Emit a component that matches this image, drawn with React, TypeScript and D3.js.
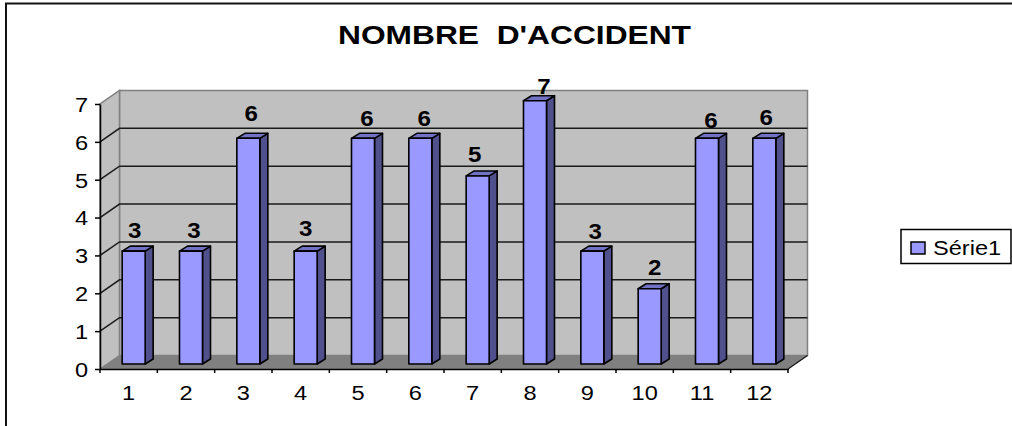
import React, { useEffect, useRef } from 'react';
import * as d3 from 'd3';

const months = ['1', '2', '3', '4', '5', '6', '7', '8', '9', '10', '11', '12'];
const accidents = [3, 3, 6, 3, 6, 6, 5, 7, 3, 2, 6, 6];
const yTicks = [0, 1, 2, 3, 4, 5, 6, 7];
const seriesName = 'Série1';
const chartTitle = "NOMBRE\u00a0\u00a0D'ACCIDENT";

// the value labels sit a bit off centre in the original
const labelNudgeX = [-2, 0, 0, -3, 1, 1, -6, 6, 0, 2, 1, -1];
const labelNudgeY = [0, 0, -4, -2, 1, 1, -1, 6, 1, -1, 3, 0];

const FONT = '"Liberation Sans", Arial, sans-serif';

// the original text is drawn wider than the font's normal width
function stretch(sel: any, k = 1.15) {
  sel.each(function (this: SVGTextElement) {
    this.setAttribute('textLength', String(this.getComputedTextLength() * k));
    this.setAttribute('lengthAdjust', 'spacingAndGlyphs');
  });
}

export default function App() {
  const ref = useRef<SVGSVGElement>(null);

  useEffect(() => {
    const svg = d3.select(ref.current);
    svg.selectAll('*').remove();

    const x = d3.scaleBand().domain(months).range([100, 788]);
    const y = d3.scaleLinear().domain([0, 7]).range([369, 104]);
    // bars stand inside the box, so their scale is a little flatter
    const barY = d3.scaleLinear().domain([0, 7]).range([364, 100.7]);

    // depth of the fake 3d box and of the bars
    const dx = 19.5, dy = -13.5;
    const barW = 23, barDx = 8, barDy = -5;
    const barOffX = 5;

    const x0 = 100, x1 = 788;
    const pts = (a: number[][]) => a.map(p => p.join(',')).join(' ');

    // outer frame, only left and top show
    svg.append('path').attr('d', 'M6,426V3.5H1012').attr('fill', 'none')
      .attr('stroke', '#111').attr('stroke-width', 2);

    // walls
    svg.append('polygon')
      .attr('points', pts([[x0 + dx, y(0) + dy], [x1 + dx, y(0) + dy], [x1 + dx, y(7) + dy], [x0 + dx, y(7) + dy]]))
      .attr('fill', '#c0c0c0').attr('stroke', '#808080').attr('stroke-width', 1.5);
    svg.append('polygon')
      .attr('points', pts([[x0, y(0)], [x0 + dx, y(0) + dy], [x0 + dx, y(7) + dy], [x0, y(7)]]))
      .attr('fill', '#c0c0c0').attr('stroke', '#808080').attr('stroke-width', 1.5);
    svg.append('polygon')
      .attr('points', pts([[x0, y(0)], [x0 + dx, y(0) + dy], [x1 + dx, y(0) + dy], [x1, y(0)]]))
      .attr('fill', '#808080');
    svg.append('line')
      .attr('x1', x1).attr('y1', y(0)).attr('x2', x1 + dx).attr('y2', y(0) + dy)
      .attr('stroke', '#111').attr('stroke-width', 1.2);

    // gridlines
    const inner = yTicks.filter(t => t > 0 && t < 7);
    svg.append('g').selectAll('path').data(inner).join('path')
      .attr('d', t => `M${x0},${y(t)}L${x0 + dx},${y(t) + dy}H${x1 + dx}`)
      .attr('fill', 'none').attr('stroke', '#1a1a1a').attr('stroke-width', 1.5);

    // axes
    const yAxis = d3.axisLeft(y).tickValues(yTicks).tickFormat(d3.format('d')).tickSize(5).tickPadding(7).tickSizeOuter(0);
    const xAxis = d3.axisBottom(x).tickSize(0).tickPadding(16);
    svg.append('g').attr('transform', `translate(${x0},0)`).call(yAxis as any)
      .call(g => g.selectAll('text').attr('dy', '0.36em'));
    const gx = svg.append('g').attr('transform', `translate(0,${y(0)})`).call(xAxis as any);
    gx.selectAll('.tick line').remove();
    gx.selectAll('.edge').data(d3.range(months.length + 1)).join('line')
      .attr('x1', i => x0 + i * x.step()).attr('x2', i => x0 + i * x.step())
      .attr('y1', 0).attr('y2', 4)
      .attr('stroke', '#000').attr('stroke-width', 1.5);
    svg.selectAll('.domain').attr('stroke', '#000').attr('stroke-width', 1.5);
    svg.selectAll('.tick line').attr('stroke', '#000').attr('stroke-width', 1.5);
    const tickText = svg.selectAll('.tick text')
      .attr('font-size', 20.5).attr('font-family', FONT).attr('fill', '#000');
    stretch(tickText);

    // bars
    const bars = svg.append('g').selectAll('g').data(accidents).join('g')
      .attr('transform', (_, i) => {
        const cx = x(months[i])! + x.bandwidth() / 2;
        return `translate(${cx - barW / 2 + barOffX},0)`;
      })
      .attr('stroke', '#000').attr('stroke-width', 1.6).attr('stroke-linejoin', 'round');

    bars.append('polygon')
      .attr('points', d => pts([[barW, barY(d)], [barW + barDx, barY(d) + barDy], [barW + barDx, barY(0) + barDy], [barW, barY(0)]]))
      .attr('fill', '#50508c');
    bars.append('polygon')
      .attr('points', d => pts([[0, barY(d)], [barDx, barY(d) + barDy], [barW + barDx, barY(d) + barDy], [barW, barY(d)]]))
      .attr('fill', '#7272c4');
    bars.append('rect')
      .attr('x', 0).attr('y', d => barY(d)).attr('width', barW).attr('height', d => barY(0) - barY(d))
      .attr('fill', '#9999ff');

    // value labels
    const labels = svg.append('g').selectAll('text').data(accidents).join('text')
      .attr('x', (_, i) => x(months[i])! + x.bandwidth() / 2 + 8 + labelNudgeX[i])
      .attr('y', (d, i) => barY(d) - 13 + labelNudgeY[i])
      .attr('text-anchor', 'middle')
      .attr('font-family', FONT).attr('font-size', 21.5).attr('font-weight', 'bold')
      .text(d => d);
    stretch(labels, 1.12);

    // title
    svg.append('text').attr('x', 514.5).attr('y', 44).attr('text-anchor', 'middle')
      .attr('font-family', FONT).attr('font-size', 26).attr('font-weight', 'bold')
      .attr('textLength', 353).attr('lengthAdjust', 'spacingAndGlyphs')
      .text(chartTitle);

    // legend
    const legend = svg.append('g');
    legend.append('rect').attr('x', 901).attr('y', 229.5).attr('width', 110).attr('height', 34)
      .attr('fill', '#fff').attr('stroke', '#000').attr('stroke-width', 1.5);
    legend.append('rect').attr('x', 911).attr('y', 242).attr('width', 14).attr('height', 12)
      .attr('fill', '#9999ff').attr('stroke', '#000').attr('stroke-width', 1.5);
    const legendText = legend.append('text').attr('x', 933).attr('y', 255)
      .attr('font-family', FONT).attr('font-size', 20.5)
      .text(seriesName);
    stretch(legendText);
  }, []);

  return (
    <svg ref={ref} width={1012} height={426} style={{ position: 'absolute', left: 0, top: 0, background: '#fff' }} />
  );
}
